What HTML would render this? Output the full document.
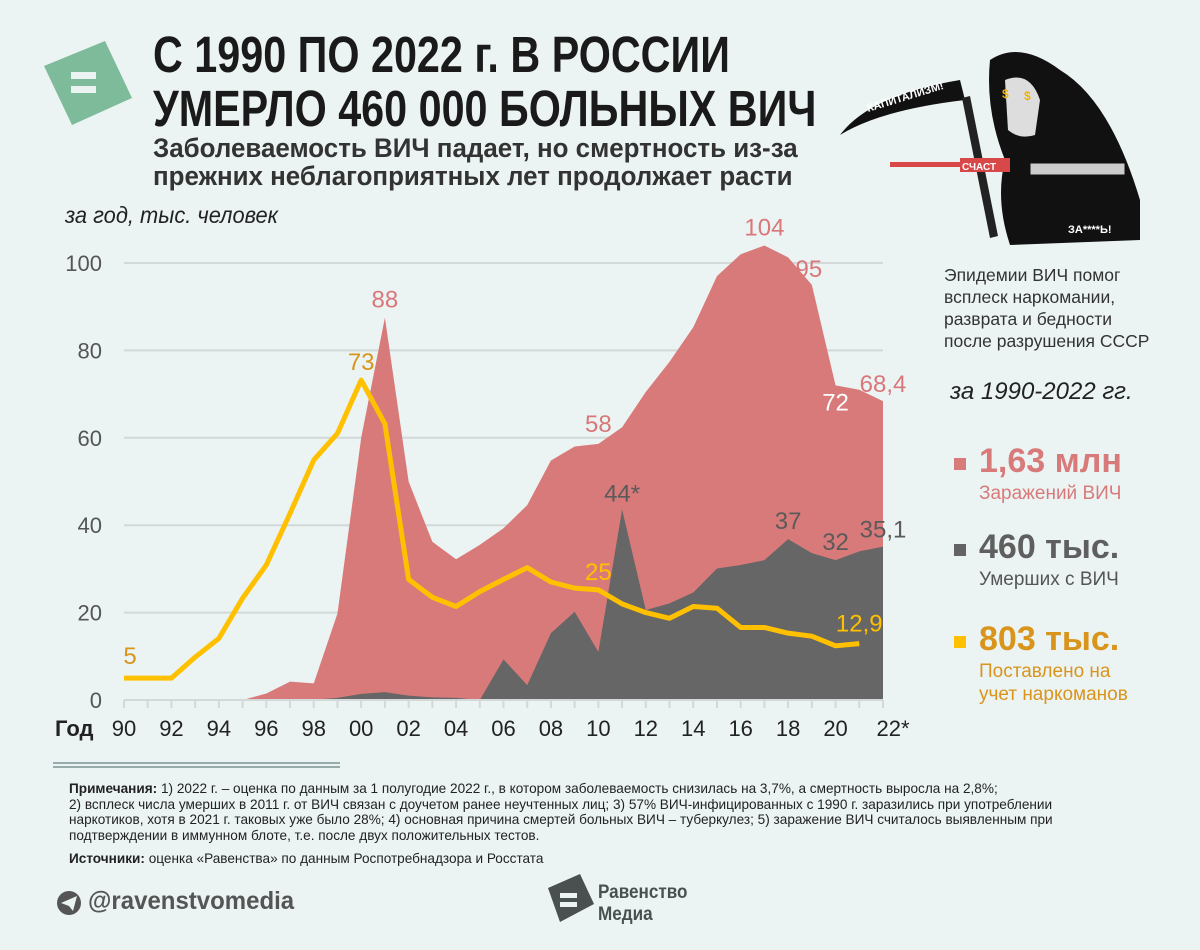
<!DOCTYPE html>
<html><head><meta charset="utf-8">
<style>
body{margin:0;background:#ebf4f3;}
#wrap{position:relative;width:1200px;height:950px;overflow:hidden;background:#ebf4f3;font-family:"Liberation Sans",sans-serif;}
.abs{position:absolute;white-space:nowrap;}
</style></head>
<body>
<div id="wrap">
<svg width="1200" height="950" style="position:absolute;left:0;top:0">
  <g id="logo">
    <polygon points="44,66 105,41 132,98 72,125" fill="#7dbb9a"/>
    <rect x="71" y="72" width="25" height="7" fill="#ebf4f3"/>
    <rect x="71" y="86" width="25" height="7" fill="#ebf4f3"/>
  </g>
  <g id="reaper">
    <path d="M990,60 Q1020,40 1060,70 Q1110,100 1140,200 L1140,240 L1010,245 Q995,200 1005,160 Q985,110 990,60Z" fill="#111"/>
    <path d="M1005,80 Q1030,70 1040,100 L1035,135 Q1020,140 1008,130 Z" fill="#ddd"/>
    <text x="1002" y="98" font-size="12" font-weight="bold" fill="#f0b400">$</text>
    <text x="1024" y="100" font-size="12" font-weight="bold" fill="#f0b400">$</text>
    <path d="M840,135 Q870,95 960,80 L965,100 Q880,110 840,135Z" fill="#111"/>
    <text x="868" y="112" font-size="11" font-weight="bold" fill="#fff" transform="rotate(-17 868 112)">КАПИТАЛИЗМ!</text>
    <polygon points="962,98 970,96 998,236 990,238" fill="#222"/>
    <rect x="890" y="162" width="90" height="5" fill="#d94848"/>
    <rect x="960" y="158" width="50" height="14" fill="#d94848"/>
    <text x="962" y="170" font-size="10" font-weight="bold" fill="#fff">СЧАСТ</text>
    <rect x="1030" y="163" width="95" height="12" fill="#ccc" stroke="#111"/>
    <text x="1068" y="233" font-size="11" font-weight="bold" fill="#fff">ЗА****Ь!</text>
  </g>
  <g id="grid"></g>
  <g id="marks"></g>
  <g id="axes"></g>
  <g id="labels"></g>
  <line x1="53" y1="763" x2="340" y2="763" stroke="#9aa" stroke-width="2"/>
  <line x1="53" y1="767" x2="340" y2="767" stroke="#9aa" stroke-width="2"/>
  <g>
    <circle cx="69" cy="903" r="12" fill="#555"/>
    <polygon points="61,903 77,896 73,911 69,906" fill="#ebf4f3"/>
  </g>
  <g>
    <polygon points="548,888 580,874 594,904 560,922" fill="#4a5050"/>
    <rect x="560" y="893" width="17" height="5" fill="#ebf4f3"/>
    <rect x="560" y="902" width="17" height="5" fill="#ebf4f3"/>
  </g>
</svg>

<div class="abs" style="left:153px;top:28px;font-size:51px;font-weight:bold;color:#1a1a1a;line-height:54px;transform:scaleX(0.81);transform-origin:0 0;">С 1990 ПО 2022 г. В РОССИИ<br>УМЕРЛО 460 000 БОЛЬНЫХ ВИЧ</div>
<div class="abs" style="left:153px;top:134px;font-size:27px;font-weight:bold;color:#333;line-height:28px;transform:scaleX(0.96);transform-origin:0 0;">Заболеваемость ВИЧ падает, но смертность из-за<br>прежних неблагоприятных лет продолжает расти</div>
<div class="abs" style="left:65px;top:202px;font-size:23px;font-style:italic;color:#222;transform:scaleX(0.95);transform-origin:0 0;">за год, тыс. человек</div>

<div class="abs" style="left:944px;top:264px;font-size:17.5px;color:#333;line-height:22px;">Эпидемии ВИЧ помог<br>всплеск наркомании,<br>разврата и бедности<br>после разрушения СССР</div>

<div class="abs" style="left:950px;top:378px;font-size:24px;font-style:italic;color:#222;">за 1990-2022 гг.</div>

<div>
<div class="abs" style="left:954px;top:458px;width:12px;height:12px;background:#d97a7a;"></div>
<div class="abs" style="left:979px;top:442px;font-size:34px;font-weight:bold;color:#d97a7a;">1,63 млн</div>
<div class="abs" style="left:979px;top:483px;font-size:19px;color:#d97a7a;">Заражений ВИЧ</div>
</div>
<div>
<div class="abs" style="left:954px;top:544px;width:12px;height:12px;background:#636363;"></div>
<div class="abs" style="left:979px;top:528px;font-size:34px;font-weight:bold;color:#5f5f5f;">460 тыс.</div>
<div class="abs" style="left:979px;top:569px;font-size:19px;color:#555;">Умерших с ВИЧ</div>
</div>
<div>
<div class="abs" style="left:954px;top:636px;width:12px;height:12px;background:#ffc000;"></div>
<div class="abs" style="left:979px;top:620px;font-size:34px;font-weight:bold;color:#d9941c;">803 тыс.</div>
<div class="abs" style="left:979px;top:660px;font-size:19px;color:#d9941c;line-height:23px;">Поставлено на<br>учет наркоманов</div>
</div>

<div class="abs" style="left:69px;top:781px;font-size:13.6px;color:#222;line-height:15.5px;"><b>Примечания:</b> 1) 2022 г. – оценка по данным за 1 полугодие 2022 г., в котором заболеваемость снизилась на 3,7%, а смертность выросла на 2,8%;<br>2) всплеск числа умерших в 2011 г. от ВИЧ связан с доучетом ранее неучтенных лиц; 3) 57% ВИЧ-инфицированных с 1990 г. заразились при употреблении<br>наркотиков, хотя в 2021 г. таковых уже было 28%; 4) основная причина смертей больных ВИЧ – туберкулез; 5) заражение ВИЧ считалось выявленным при<br>подтверждении в иммунном блоте, т.е. после двух положительных тестов.</div>
<div class="abs" style="left:69px;top:851px;font-size:13.6px;color:#222;"><b>Источники:</b> оценка «Равенства» по данным Роспотребнадзора и Росстата</div>
<div class="abs" style="left:88px;top:887px;font-size:25px;font-weight:bold;color:#555;transform:scaleX(0.96);transform-origin:0 0;">@ravenstvomedia</div>
<div class="abs" style="left:598px;top:882px;font-size:19px;font-weight:bold;color:#4a5050;line-height:22px;transform:scaleX(0.9);transform-origin:0 0;">Равенство<br>Медиа</div>
</div>

<script>
const years = [1990,1991,1992,1993,1994,1995,1996,1997,1998,1999,2000,2001,2002,2003,2004,2005,2006,2007,2008,2009,2010,2011,2012,2013,2014,2015,2016,2017,2018,2019,2020,2021,2022];
const infections = [0,0,0,0,0,0,1.5,4.2,3.8,19.8,60,87.5,50,36.2,32.2,35.5,39.3,44.6,54.8,58,58.6,62.4,70.5,77.4,85.3,97,102,104,101.3,95,72,71,68.4];
const deaths = [0,0,0,0,0,0,0,0,0.1,0.5,1.4,1.8,1,0.6,0.5,0,9.3,3.4,15.3,20.2,11,43.6,20.6,22.1,24.6,30.1,30.9,32,36.8,33.6,32,34,35.1];
const addictYears = [1990,1991,1992,1993,1994,1995,1996,1997,1998,1999,2000,2001,2002,2003,2004,2005,2006,2007,2008,2009,2010,2011,2012,2013,2014,2015,2016,2017,2018,2019,2020,2021];
const addicts = [5,5,5,9.8,14.1,23.3,30.9,42.7,54.9,61,73.2,63.2,27.6,23.5,21.4,24.8,27.6,30.3,27,25.6,25.2,22,20,18.7,21.4,21,16.6,16.6,15.3,14.6,12.4,12.9];
const yTicks = [0,20,40,60,80,100];
const xTickLabels = ["90","92","94","96","98","00","02","04","06","08","10","12","14","16","18","20","22*"];

const NS="http://www.w3.org/2000/svg";
const X0=124,X1=883,Y0=700,Y100=263;
const x=v=>X0+(v-1990)*(X1-X0)/32;
const y=v=>Y0-v*(Y0-Y100)/100;
function el(tag,attrs,parent,text){const e=document.createElementNS(NS,tag);for(const k in attrs)e.setAttribute(k,attrs[k]);if(text!==undefined)e.textContent=text;parent.appendChild(e);return e;}
const grid=document.getElementById('grid'),marks=document.getElementById('marks'),axes=document.getElementById('axes'),labels=document.getElementById('labels');
const F='"Liberation Sans",sans-serif';
yTicks.forEach(t=>{
  if(t>0){const g=el('line',{x1:X0,x2:X1,y1:y(t),y2:y(t),stroke:'#d3d8d8','stroke-width':2},grid);
  
  }
  const l=el('text',{x:102,y:y(t)+8,'text-anchor':'end','font-size':22,fill:'#555','font-family':F},axes,String(t));
  
  
});
function area(vals,color,name){
  let d='M'+x(years[0])+','+y(0);
  vals.forEach((v,i)=>{d+=' L'+x(years[i])+','+y(v);});
  d+=' L'+x(years[years.length-1])+','+y(0)+'Z';
  const p=el('path',{d:d,fill:color},marks);
  
  
}
area(infections,'#d97a7a','infections-area');
area(deaths,'#666666','deaths-area');
const pts=addicts.map((v,i)=>x(addictYears[i])+','+y(v)).join(' ');
const pl=el('polyline',{points:pts,fill:'none',stroke:'#ffc000','stroke-width':5,'stroke-linejoin':'round'},marks);


const ax=el('line',{x1:X0,x2:X1,y1:Y0,y2:Y0,stroke:'#d3d8d8','stroke-width':2},axes);


years.forEach(yr=>{const t=el('line',{x1:x(yr),x2:x(yr),y1:Y0,y2:Y0+8,stroke:'#d3d8d8','stroke-width':2},axes);
  
  });
xTickLabels.forEach((s,i)=>{const t=el('text',{x:x(1990+2*i)+(i==16?10:0),y:736,'text-anchor':'middle','font-size':22,fill:'#222','font-family':F},axes,s);
  
  });
const g=el('text',{x:55,y:736,'font-size':22,'font-weight':'bold',fill:'#222','font-family':F},axes,'Год');


function lab(arr,yrs,yr,txt,color,dx,dy){
  const i=yrs.indexOf(yr);
  const t=el('text',{x:x(yr)+dx,y:y(arr[i])+dy,'text-anchor':'middle','font-size':24,fill:color,'font-family':F},labels,txt);
  
  
}
const R='#d9777a',G='#5a5a5a';
lab(infections,years,2001,'88',R,0,-10);
lab(infections,years,2010,'58',R,0,-12);
lab(infections,years,2017,'104',R,0,-10);
lab(infections,years,2019,'95',R,-3,-8);
lab(infections,years,2020,'72','#fff',0,25);
lab(infections,years,2022,'68,4',R,0,-9);
lab(deaths,years,2011,'44*',G,0,-8);
lab(deaths,years,2018,'37',G,0,-10);
lab(deaths,years,2020,'32',G,0,-10);
lab(deaths,years,2022,'35,1',G,0,-9);
lab(addicts,addictYears,1990,'5','#d9941c',6,-14);
lab(addicts,addictYears,2000,'73','#d9941c',0,-10);
lab(addicts,addictYears,2010,'25','#ffc000',0,-10);
lab(addicts,addictYears,2021,'12,9','#ffc000',0,-12);
</script>
</body></html>
